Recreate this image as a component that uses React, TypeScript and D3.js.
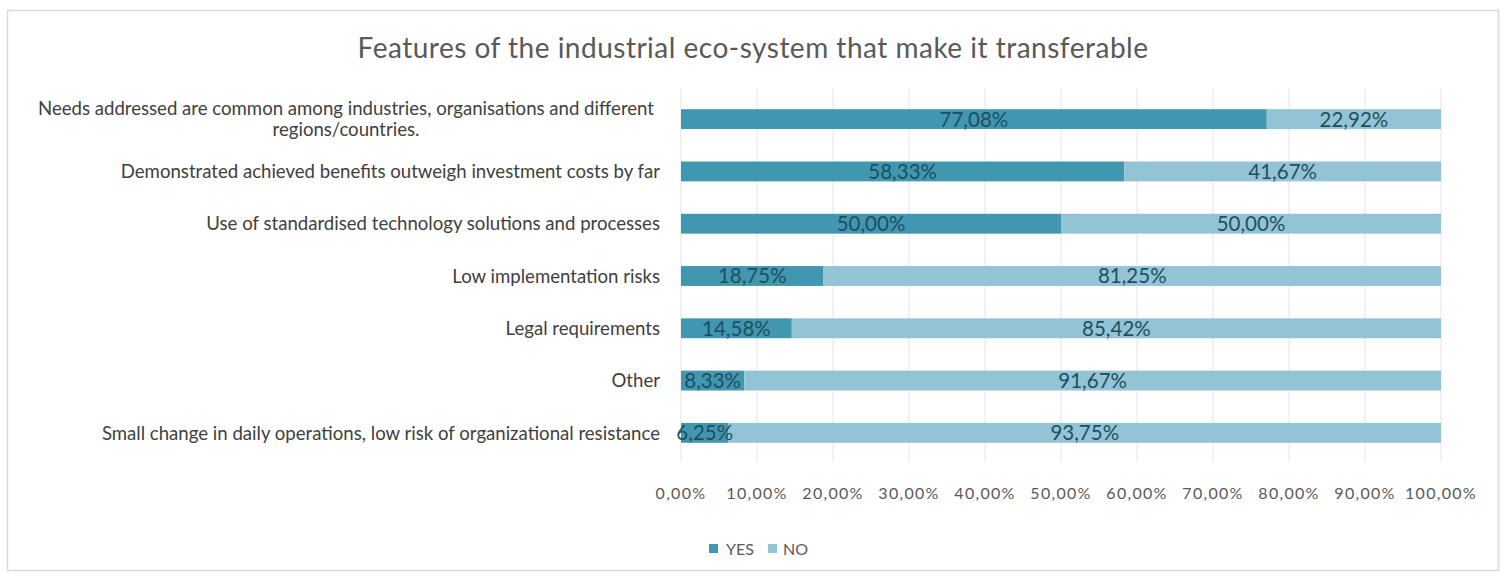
import React from "react";
import * as d3 from "d3";

const title = "Features of the industrial eco-system that make it transferable";
const categories = [
  "Needs addressed are common among industries, organisations and different|regions/countries.",
  "Demonstrated achieved benefits outweigh investment costs by far",
  "Use of standardised technology solutions and processes",
  "Low implementation risks",
  "Legal requirements",
  "Other",
  "Small change in daily operations, low risk of organizational resistance",
];
const yesValues = [77.08, 58.33, 50.0, 18.75, 14.58, 8.33, 6.25];
const noValues = [22.92, 41.67, 50.0, 81.25, 85.42, 91.67, 93.75];
const tickValues = [0, 10, 20, 30, 40, 50, 60, 70, 80, 90, 100];
const seriesNames = ["YES", "NO"];
const seriesColors = ["#4196b0", "#92c4d6"];

const W = 1507;
const H = 573;
const FONT = "Lato, 'Open Sans', sans-serif";
const fmt = (v: number) => v.toFixed(2).replace(".", ",") + "%";

export default function App() {
  const x = d3.scaleLinear().domain([0, 100]).range([681, 1441]);
  const y = d3
    .scaleBand<string>()
    .domain(categories)
    .range([93, 459])
    .paddingInner(0.62)
    .paddingOuter(0.31);
  const bw = y.bandwidth();

  const stackData = categories.map((c, i) => ({ cat: c, YES: yesValues[i], NO: noValues[i] }));
  const stack = d3.stack<any>().keys(seriesNames)(stackData);

  return (
    <svg width={W} height={H} style={{ position: "absolute", left: 0, top: 0, background: "#fff" }} fontFamily={FONT}>
      <rect x={7.5} y={10.5} width={1491} height={560} fill="#fff" stroke="#d9d9d9" strokeWidth={1.5} />
      <text x={753} y={58} textAnchor="middle" fontSize={28} letterSpacing={0.5} fill="#595959">
        {title}
      </text>
      {/* gridlines */}
      {tickValues.map((t) => (
        <line key={t} x1={x(t)} x2={x(t)} y1={88} y2={462} stroke="#e3e3e3" strokeWidth={1} />
      ))}
      {/* bars */}
      {stack.map((s, si) =>
        s.map((d, i) => (
          <rect
            key={si + "-" + i}
            x={x(d[0])}
            y={y(categories[i])!}
            width={x(d[1]) - x(d[0])}
            height={bw}
            fill={seriesColors[si]}
          />
        ))
      )}
      {/* data labels */}
      {stack.map((s, si) =>
        s.map((d, i) => (
          <text
            key={"l" + si + "-" + i}
            x={(x(d[0]) + x(d[1])) / 2}
            y={y(categories[i])! + bw / 2}
            dy="0.36em"
            textAnchor="middle"
            fontSize={20.5}
            fill="#1e4f60"
          >
            {fmt(si === 0 ? yesValues[i] : noValues[i])}
          </text>
        ))
      )}
      {/* category labels */}
      {categories.map((c) => {
        const lines = c.split("|");
        const cy = y(c)! + bw / 2;
        if (lines.length === 1) {
          return (
            <text key={c} x={660} y={cy} dy="0.36em" textAnchor="end" fontSize={18.6} fill="#404040">
              {c}
            </text>
          );
        }
        return (
          <text key={c} x={346} y={cy - 11} textAnchor="middle" fontSize={18.6} fill="#404040">
            {lines.map((l, k) => (
              <tspan key={k} x={346} dy={k === 0 ? "0.36em" : 21}>
                {l}
              </tspan>
            ))}
          </text>
        );
      })}
      {/* axis labels */}
      {tickValues.map((t) => (
        <text key={"t" + t} x={x(t)} y={493} dy="0.36em" textAnchor="middle" fontSize={16} letterSpacing={1.3} fill="#595959">
          {fmt(t)}
        </text>
      ))}
      {/* legend */}
      <g>
        <rect x={709} y={544} width={9} height={9} fill={seriesColors[0]} />
        <text x={726} y={549} dy="0.36em" fontSize={16} fill="#595959">YES</text>
        <rect x={768} y={544} width={9} height={9} fill={seriesColors[1]} />
        <text x={783} y={549} dy="0.36em" fontSize={16} fill="#595959">NO</text>
      </g>
    </svg>
  );
}
